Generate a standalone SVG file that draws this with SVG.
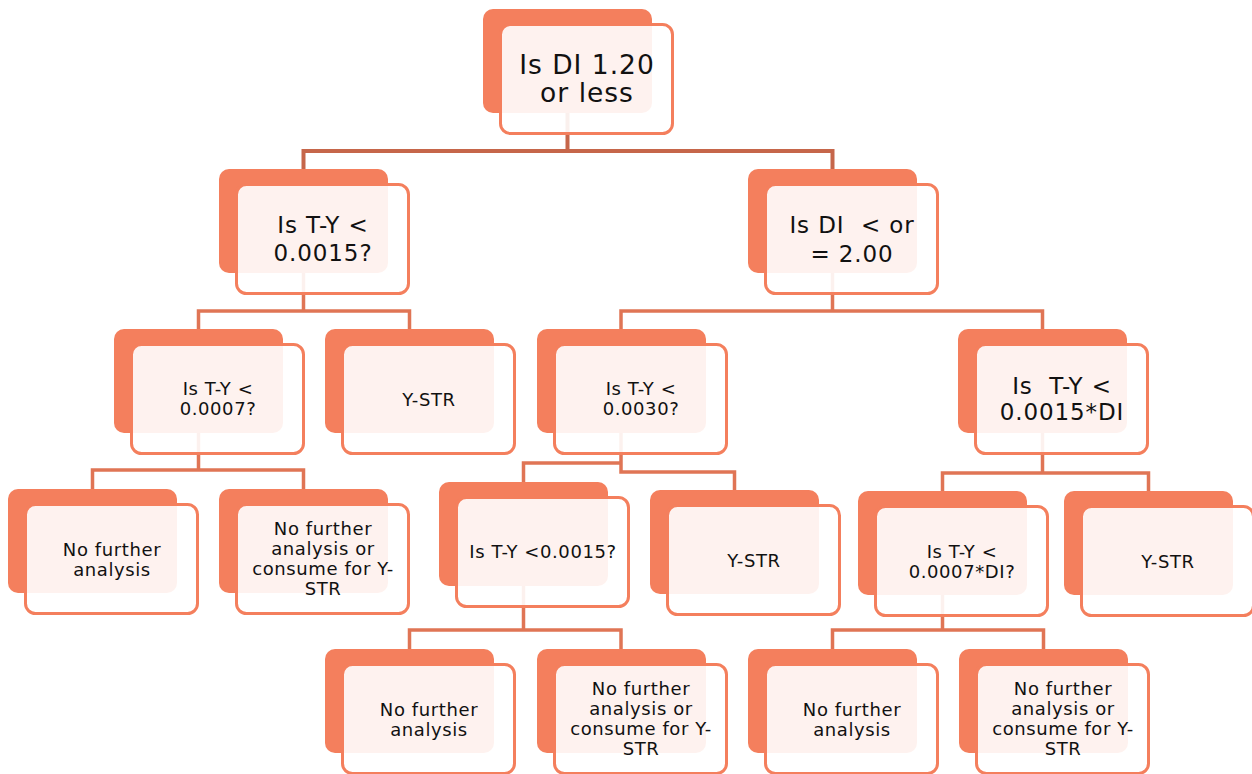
<svg xmlns="http://www.w3.org/2000/svg" width="1252" height="774" viewBox="0 0 1252 774">
  <style>
    .back { fill: #f47f5d; }
    .front { fill: #ffffff; fill-opacity: 0.9; stroke: #f47f5d; stroke-width: 3; }
    .lbl { font-family: "DejaVu Sans", Verdana, sans-serif; fill: #111111; text-anchor: middle; white-space: pre; }
    .xl { font-size: 26.5px; letter-spacing: 1px; }
    .lg { font-size: 23px; letter-spacing: 0.9px; }
    .sm { font-size: 18px; letter-spacing: 0.6px; }
    .conn { fill: none; stroke-width: 3.5; stroke-linejoin: miter; stroke-linecap: butt; }
    .c0 { stroke: #c6664a; stroke-width: 4; }
    .c1 { stroke: #e07555; }
  </style>

  <!-- elbow connectors, drawn under the nodes -->
  <g id="connectors" class="conn">
    <path class="c0" d="M567.5,113 V151 M303.5,169 V151 H832.5 V169"/>
    <path class="c1" d="M303.5,273 V311 M198.5,329 V311 H409.5 V329"/>
    <path class="c1" d="M832.5,273 V311 M621,329 V311 H1042.5 V329"/>
    <path class="c1" d="M198.5,433 V470 M92.5,489 V470 H303.5 V489"/>
    <path class="c1" d="M621,433 V472 H734.5 V490 M523.5,482 V463 H621"/>
    <path class="c1" d="M1042.5,433 V473 M942.5,491 V473 H1148.5 V491"/>
    <path class="c1" d="M523.5,586 V630 M409.5,649 V630 H621 V649"/>
    <path class="c1" d="M942.5,595 V630 M832.5,649 V630 H1043.5 V649"/>
  </g>

  <g id="n-root" transform="translate(483,9)">
    <rect class="back" width="169" height="104" rx="10"/>
    <rect class="front" x="17.5" y="15.5" width="172" height="109" rx="10"/>
    <text class="lbl xl"><tspan x="104" y="65">Is DI 1.20</tspan><tspan x="104" y="93">or less</tspan></text>
  </g>

  <g id="n-ty-0015" transform="translate(219,169)">
    <rect class="back" width="169" height="104" rx="10"/>
    <rect class="front" x="17.5" y="15.5" width="172" height="109" rx="10"/>
    <text class="lbl lg"><tspan x="104" y="64">Is T-Y &lt;</tspan><tspan x="104" y="92">0.0015?</tspan></text>
  </g>

  <g id="n-di-200" transform="translate(748,169)">
    <rect class="back" width="169" height="104" rx="10"/>
    <rect class="front" x="17.5" y="15.5" width="172" height="109" rx="10"/>
    <text class="lbl lg"><tspan x="104" y="64">Is DI  &lt; or</tspan><tspan x="104" y="93">= 2.00</tspan></text>
  </g>

  <g id="n-ty-0007" transform="translate(114,329)">
    <rect class="back" width="169" height="104" rx="10"/>
    <rect class="front" x="17.5" y="15.5" width="172" height="109" rx="10"/>
    <text class="lbl sm"><tspan x="104" y="66">Is T-Y &lt;</tspan><tspan x="104" y="86">0.0007?</tspan></text>
  </g>

  <g id="n-ystr-1" transform="translate(325,329)">
    <rect class="back" width="169" height="104" rx="10"/>
    <rect class="front" x="17.5" y="15.5" width="172" height="109" rx="10"/>
    <text class="lbl sm" x="104" y="77">Y-STR</text>
  </g>

  <g id="n-ty-0030" transform="translate(537,329)">
    <rect class="back" width="169" height="104" rx="10"/>
    <rect class="front" x="17.5" y="15.5" width="172" height="109" rx="10"/>
    <text class="lbl sm"><tspan x="104" y="66">Is T-Y &lt;</tspan><tspan x="104" y="86">0.0030?</tspan></text>
  </g>

  <g id="n-ty-0015di" transform="translate(958,329)">
    <rect class="back" width="169" height="104" rx="10"/>
    <rect class="front" x="17.5" y="15.5" width="172" height="109" rx="10"/>
    <text class="lbl lg"><tspan x="104" y="65">Is  T-Y &lt;</tspan><tspan x="104" y="91">0.0015*DI</tspan></text>
  </g>

  <g id="n-stop-1" transform="translate(8,489)">
    <rect class="back" width="169" height="104" rx="10"/>
    <rect class="front" x="17.5" y="15.5" width="172" height="109" rx="10"/>
    <text class="lbl sm"><tspan x="104" y="67">No further</tspan><tspan x="104" y="87">analysis</tspan></text>
  </g>

  <g id="n-consume-1" transform="translate(219,489)">
    <rect class="back" width="169" height="104" rx="10"/>
    <rect class="front" x="17.5" y="15.5" width="172" height="109" rx="10"/>
    <text class="lbl sm"><tspan x="104" y="46">No further</tspan><tspan x="104" y="66">analysis or</tspan><tspan x="104" y="86">consume for Y-</tspan><tspan x="104" y="106">STR</tspan></text>
  </g>

  <g id="n-ty-0015b" transform="translate(439,482)">
    <rect class="back" width="169" height="104" rx="10"/>
    <rect class="front" x="17.5" y="15.5" width="172" height="109" rx="10"/>
    <text class="lbl sm" x="104" y="76">Is T-Y &lt;0.0015?</text>
  </g>

  <g id="n-ystr-2" transform="translate(650,490)">
    <rect class="back" width="169" height="104" rx="10"/>
    <rect class="front" x="17.5" y="15.5" width="172" height="109" rx="10"/>
    <text class="lbl sm" x="104" y="77">Y-STR</text>
  </g>

  <g id="n-ty-0007di" transform="translate(858,491)">
    <rect class="back" width="169" height="104" rx="10"/>
    <rect class="front" x="17.5" y="15.5" width="172" height="109" rx="10"/>
    <text class="lbl sm"><tspan x="104" y="67">Is T-Y &lt;</tspan><tspan x="104" y="87">0.0007*DI?</tspan></text>
  </g>

  <g id="n-ystr-3" transform="translate(1064,491)">
    <rect class="back" width="169" height="104" rx="10"/>
    <rect class="front" x="17.5" y="15.5" width="172" height="109" rx="10"/>
    <text class="lbl sm" x="104" y="77">Y-STR</text>
  </g>

  <g id="n-stop-2" transform="translate(325,649)">
    <rect class="back" width="169" height="104" rx="10"/>
    <rect class="front" x="17.5" y="15.5" width="172" height="109" rx="10"/>
    <text class="lbl sm"><tspan x="104" y="67">No further</tspan><tspan x="104" y="87">analysis</tspan></text>
  </g>

  <g id="n-consume-2" transform="translate(537,649)">
    <rect class="back" width="169" height="104" rx="10"/>
    <rect class="front" x="17.5" y="15.5" width="172" height="109" rx="10"/>
    <text class="lbl sm"><tspan x="104" y="46">No further</tspan><tspan x="104" y="66">analysis or</tspan><tspan x="104" y="86">consume for Y-</tspan><tspan x="104" y="106">STR</tspan></text>
  </g>

  <g id="n-stop-3" transform="translate(748,649)">
    <rect class="back" width="169" height="104" rx="10"/>
    <rect class="front" x="17.5" y="15.5" width="172" height="109" rx="10"/>
    <text class="lbl sm"><tspan x="104" y="67">No further</tspan><tspan x="104" y="87">analysis</tspan></text>
  </g>

  <g id="n-consume-3" transform="translate(959,649)">
    <rect class="back" width="169" height="104" rx="10"/>
    <rect class="front" x="17.5" y="15.5" width="172" height="109" rx="10"/>
    <text class="lbl sm"><tspan x="104" y="46">No further</tspan><tspan x="104" y="66">analysis or</tspan><tspan x="104" y="86">consume for Y-</tspan><tspan x="104" y="106">STR</tspan></text>
  </g>
</svg>
